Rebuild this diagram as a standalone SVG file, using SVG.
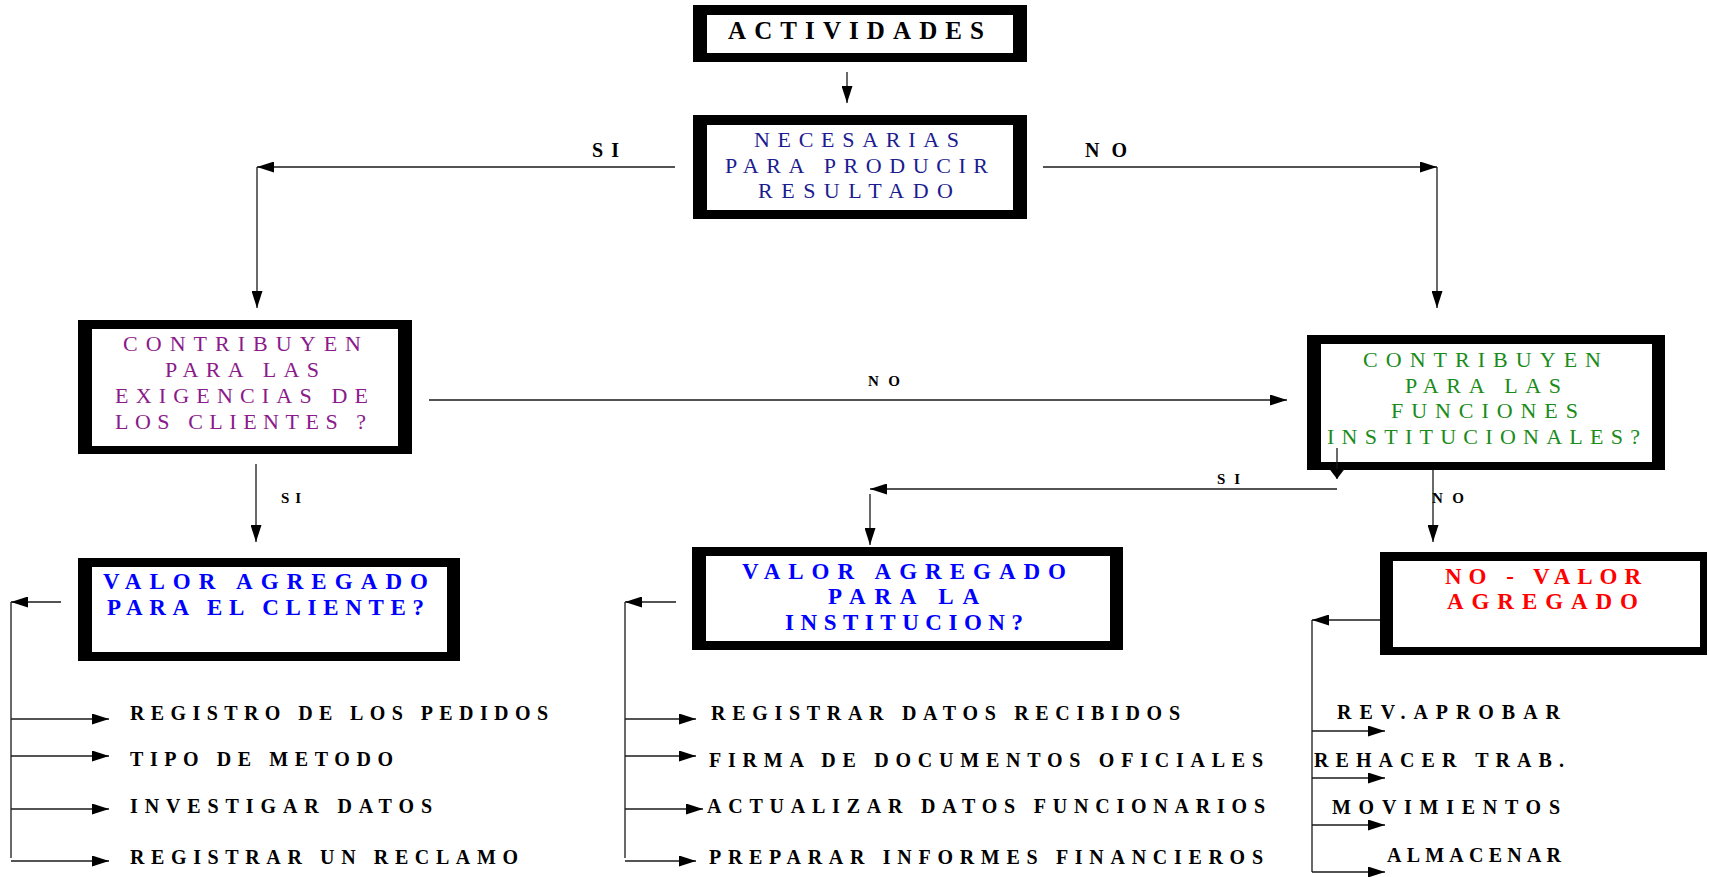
<svg xmlns="http://www.w3.org/2000/svg" width="1709" height="877" viewBox="0 0 1709 877">
<style>
.frame{fill:#000}
.inner{fill:#fff}
text{font-family:"Liberation Serif","Times New Roman",serif}
.b{font-weight:bold}
.navy{fill:#1c1c90;font-size:22px}
.purple{fill:#8b1a8b;font-size:22px}
.green{fill:#1a8c1a;font-size:22px}
.blue{fill:#0000ff;font-size:23px;font-weight:bold}
.red{fill:#ff0000;font-size:23px;font-weight:bold}
.lbl{fill:#000;font-size:20px;font-weight:bold}
.slbl{fill:#000;font-size:15px;font-weight:bold}
.item{fill:#000;font-size:20px;font-weight:bold}
.c line,.c polyline{stroke:#1a1a1a;stroke-width:1.3;fill:none}
.a{marker-end:url(#ah)}
</style>
<defs>
<marker id="ah" markerUnits="userSpaceOnUse" markerWidth="17" markerHeight="11" viewBox="0 0 17 11" refX="17" refY="5.5" orient="auto">
<path d="M0,0 L17,5.5 L0,11 z" fill="#000"/>
</marker>
<marker id="ah2" markerUnits="userSpaceOnUse" markerWidth="10" markerHeight="15" viewBox="0 0 10 15" refX="10" refY="7.5" orient="auto">
<path d="M0,0 L10,7.5 L0,15 z" fill="#000"/>
</marker>
</defs>
<rect width="1709" height="877" fill="#fff"/>

<g id="actividades">
<rect class="frame" x="693" y="5" width="334" height="57"/>
<rect class="inner" x="707" y="15" width="306" height="38"/>
<text class="b" x="728" y="39" font-size="25" textLength="256" lengthAdjust="spacing">ACTIVIDADES</text>
</g>

<g id="necesarias">
<rect class="frame" x="693" y="115" width="334" height="104"/>
<rect class="inner" x="707" y="125" width="306" height="85"/>
<text class="navy" x="754" y="147" textLength="205" lengthAdjust="spacing">NECESARIAS</text>
<text class="navy" x="725" y="173" textLength="263" lengthAdjust="spacing">PARA PRODUCIR</text>
<text class="navy" x="758" y="198" textLength="195" lengthAdjust="spacing">RESULTADO</text>
</g>

<g id="contribuyen-clientes">
<rect class="frame" x="78" y="320" width="334" height="134"/>
<rect class="inner" x="92" y="329" width="306" height="117"/>
<text class="purple" x="123" y="351" textLength="238" lengthAdjust="spacing">CONTRIBUYEN</text>
<text class="purple" x="165" y="377" textLength="154" lengthAdjust="spacing">PARA LAS</text>
<text class="purple" x="115" y="403" textLength="253" lengthAdjust="spacing">EXIGENCIAS DE</text>
<text class="purple" x="115" y="429" textLength="251" lengthAdjust="spacing">LOS CLIENTES ?</text>
</g>

<g id="contribuyen-funciones">
<rect class="frame" x="1307" y="335" width="358" height="135"/>
<rect class="inner" x="1321" y="344" width="331" height="118"/>
<text class="green" x="1363" y="367" textLength="238" lengthAdjust="spacing">CONTRIBUYEN</text>
<text class="green" x="1405" y="393" textLength="156" lengthAdjust="spacing">PARA LAS</text>
<text class="green" x="1391" y="418" textLength="187" lengthAdjust="spacing">FUNCIONES</text>
<text class="green" x="1327" y="444" textLength="313" lengthAdjust="spacing">INSTITUCIONALES?</text>
</g>

<g id="valor-cliente">
<rect class="frame" x="78" y="558" width="382" height="103"/>
<rect class="inner" x="92" y="567" width="355" height="85"/>
<text class="blue" x="103" y="589" textLength="325" lengthAdjust="spacing">VALOR AGREGADO</text>
<text class="blue" x="107" y="615" textLength="317" lengthAdjust="spacing">PARA EL CLIENTE?</text>
</g>

<g id="valor-institucion">
<rect class="frame" x="692" y="547" width="431" height="103"/>
<rect class="inner" x="706" y="556" width="404" height="85"/>
<text class="blue" x="742" y="579" textLength="324" lengthAdjust="spacing">VALOR AGREGADO</text>
<text class="blue" x="828" y="604" textLength="151" lengthAdjust="spacing">PARA LA</text>
<text class="blue" x="785" y="630" textLength="238" lengthAdjust="spacing">INSTITUCION?</text>
</g>

<g id="no-valor">
<rect class="frame" x="1380" y="552" width="327" height="103"/>
<rect class="inner" x="1393" y="561" width="307" height="86"/>
<text class="red" x="1445" y="584" textLength="196" lengthAdjust="spacing">NO - VALOR</text>
<text class="red" x="1447" y="609" textLength="191" lengthAdjust="spacing">AGREGADO</text>
</g>

<g id="connectors" class="c">
<line class="a" x1="847" y1="72" x2="847" y2="103"/>
<line class="a" x1="675" y1="167" x2="257" y2="167"/>
<line class="a" x1="257" y1="167" x2="257" y2="308"/>
<line class="a" x1="1043" y1="167" x2="1437" y2="167"/>
<line class="a" x1="1437" y1="167" x2="1437" y2="308"/>
<line class="a" x1="429" y1="400" x2="1287" y2="400"/>
<line x1="1337" y1="448" x2="1337" y2="470"/>
<line style="marker-end:url(#ah2)" x1="1337" y1="469" x2="1337" y2="479"/>
<line class="a" x1="1337" y1="489" x2="870" y2="489"/>
<line class="a" x1="870" y1="494" x2="870" y2="545"/>
<line class="a" x1="1433" y1="470" x2="1433" y2="542"/>
<line class="a" x1="256" y1="464" x2="256" y2="542"/>
<line class="a" x1="61" y1="602" x2="11" y2="602"/>
<line x1="11" y1="602" x2="11" y2="858"/>
<line class="a" x1="11" y1="719" x2="109" y2="719"/>
<line class="a" x1="11" y1="756" x2="109" y2="756"/>
<line class="a" x1="11" y1="809" x2="109" y2="809"/>
<line class="a" x1="11" y1="861" x2="109" y2="861"/>
<line class="a" x1="676" y1="602" x2="625" y2="602"/>
<line x1="625" y1="602" x2="625" y2="858"/>
<line class="a" x1="625" y1="719" x2="696" y2="719"/>
<line class="a" x1="625" y1="756" x2="696" y2="756"/>
<line class="a" x1="625" y1="809" x2="703" y2="809"/>
<line class="a" x1="625" y1="861" x2="696" y2="861"/>
<line class="a" x1="1380" y1="620" x2="1312" y2="620"/>
<line x1="1312" y1="620" x2="1312" y2="872"/>
<line class="a" x1="1312" y1="731" x2="1385" y2="731"/>
<line class="a" x1="1312" y1="778" x2="1385" y2="778"/>
<line class="a" x1="1312" y1="825" x2="1385" y2="825"/>
<line class="a" x1="1312" y1="872" x2="1385" y2="872"/>
<text class="lbl" x="592" y="157" textLength="27" lengthAdjust="spacing">SI</text>
<text class="lbl" x="1085" y="157" textLength="42" lengthAdjust="spacing">NO</text>
<text class="slbl" x="868" y="386" textLength="32" lengthAdjust="spacing">NO</text>
<text class="slbl" x="281" y="503" textLength="20" lengthAdjust="spacing">SI</text>
<text class="slbl" x="1217" y="484" textLength="23" lengthAdjust="spacing">SI</text>
<text class="slbl" x="1432" y="503" textLength="32" lengthAdjust="spacing">NO</text>
</g>

<g id="items-cliente">
<text class="item" x="130" y="720" textLength="418" lengthAdjust="spacing">REGISTRO DE LOS PEDIDOS</text>
<text class="item" x="130" y="766" textLength="263" lengthAdjust="spacing">TIPO DE METODO</text>
<text class="item" x="130" y="813" textLength="302" lengthAdjust="spacing">INVESTIGAR DATOS</text>
<text class="item" x="130" y="864" textLength="388" lengthAdjust="spacing">REGISTRAR UN RECLAMO</text>
</g>

<g id="items-institucion">
<text class="item" x="711" y="720" textLength="469" lengthAdjust="spacing">REGISTRAR DATOS RECIBIDOS</text>
<text class="item" x="709" y="767" textLength="554" lengthAdjust="spacing">FIRMA DE DOCUMENTOS OFICIALES</text>
<text class="item" x="707" y="813" textLength="558" lengthAdjust="spacing">ACTUALIZAR DATOS FUNCIONARIOS</text>
<text class="item" x="709" y="864" textLength="554" lengthAdjust="spacing">PREPARAR INFORMES FINANCIEROS</text>
</g>

<g id="items-no-valor">
<text class="item" x="1337" y="719" textLength="223" lengthAdjust="spacing">REV.APROBAR</text>
<text class="item" x="1314" y="767" textLength="250" lengthAdjust="spacing">REHACER TRAB.</text>
<text class="item" x="1332" y="814" textLength="228" lengthAdjust="spacing">MOVIMIENTOS</text>
<text class="item" x="1387" y="862" textLength="174" lengthAdjust="spacing">ALMACENAR</text>
</g>
</svg>
